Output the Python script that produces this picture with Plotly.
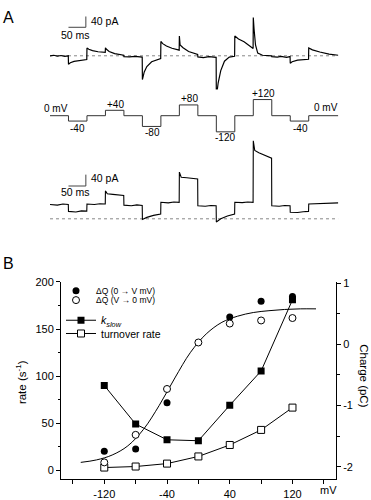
import plotly.graph_objects as go

W, H = 371, 500

# ---------------- Panel A data ----------------
# voltage protocol: step edges (ms) and levels (mV)
step_edges_ms = [0, 50, 100, 150, 200, 250, 300, 350, 400, 450, 500, 550, 600, 650, 700, 780]
step_levels_mV = [0, -40, 0, 40, 0, -80, 0, 80, 0, -120, 0, 120, 0, -40, 0]

# upper current record (pA)
top_t = [0, 10, 20, 30, 40, 49.5,
         50, 55, 65, 80, 99.5,
         100, 105, 115, 130, 149.5,
         150, 152, 160, 175, 199.5,
         200, 215, 230, 249.5,
         250, 255, 262, 275, 299.5,
         300, 305, 315, 330, 349.5,
         350, 352, 360, 375, 399.5,
         400, 415, 430, 449.5,
         450, 455, 462, 472, 485, 499.5,
         500, 510, 525, 549.5,
         550, 552, 556, 562, 575, 599.5,
         600, 615, 625, 640, 649.5,
         650, 655, 670, 699.5,
         700, 710, 730, 755, 780]
top_pA = [0, 2, -1, 1, -2, 0,
          -31, -26, -21, -17, -14,
          29, 24, 19, 15, 13,
          30, 25, 16, 8, 2,
          -3, -4, -2, -5,
          -88, -60, -40, -22, -10,
          53, 45, 36, 28, 21,
          73, 40, 30, 16, 5,
          -4, -7, -3, -6,
          -153, -100, -55, -20, -5, -2,
          73, 62, 52, 27,
          142, 100, 40, 10, 2, 0,
          -3, -5, -2, -6, -3,
          -28, -22, -16, -13,
          29, 22, 14, 6, 2]

# lower current record (pA)
bot_t = [0, 20, 35, 49.5,
         50, 70, 85, 99.5,
         100, 120, 135, 149.5,
         150, 155, 170, 185, 199.5,
         200, 220, 235, 249.5,
         250, 262, 280, 299.5,
         300, 320, 335, 349.5,
         350, 355, 370, 385, 399.5,
         400, 420, 435, 449.5,
         450, 462, 480, 499.5,
         500, 520, 535, 549.5,
         550, 554, 565, 580, 599.5,
         600, 620, 635, 649.5,
         650, 670, 685, 699.5,
         700, 730, 760, 780]
bot_pA = [50, 48, 52, 50,
          26, 24, 28, 27,
          52, 50, 53, 52,
          98, 88, 86, 84, 82,
          48, 46, 49, 47,
          -2, 5, 12, 17,
          58, 56, 59, 58,
          164, 146, 144, 142, 140,
          46, 44, 47, 46,
          -11, 0, 10, 17,
          58, 57, 59, 58,
          274, 240, 232, 224, 213,
          46, 44, 47, 46,
          23, 22, 25, 26,
          52, 53, 55, 56]

# ---------------- Panel B data ----------------
V_on = [-120, -80, -40, 40, 80, 120]
dQ_on_pC = [-1.75, -1.71, -0.955, 0.446, 0.703, 0.78]
V_off = [-120, -80, -40, 0, 40, 80, 120]
dQ_off_pC = [-1.93, -1.48, -0.73, 0.03, 0.34, 0.39, 0.43]
V_fit = [-150, -130, -110, -90, -70, -50, -30, -10, 10, 30, 50, 70, 90, 110, 130, 150]
Q_fit = [-1.93, -1.89, -1.81, -1.66, -1.39, -1.00, -0.55, -0.13, 0.17, 0.36, 0.46, 0.52, 0.55, 0.57, 0.58, 0.58]
V_rate = [-120, -80, -40, 0, 40, 80, 120]
k_slow = [90, 49, 32.3, 31.3, 69, 105.4, 181]
turnover = [2.8, 3.9, 7, 14.6, 26.8, 42.8, 66.5]

x_ticks = [-120, -40, 40, 120]
x_ticktext = ["-120", "-40", "40", "120"]
x_minor_ticks = [-160, -80, 0, 80, 160]
left_ticks = [0, 50, 100, 150, 200]
right_ticks = [-2, -1, 0, 1]
right_ticktext = ["-2", "-1", "0", "1"]

FONT = "Liberation Sans, Arial, sans-serif"


def px(x):
    return x / W


def py(y):
    return 1 - y / H


fig = go.Figure()

# --- Panel A traces ---
fig.add_trace(go.Scatter(x=[top_t[0], top_t[-1]], y=[0, 0], xaxis="x", yaxis="y", mode="lines",
                         line=dict(color="#888", width=1, dash="dot"), showlegend=False, hoverinfo="skip"))
fig.add_trace(go.Scatter(x=top_t, y=top_pA, xaxis="x", yaxis="y", mode="lines",
                         line=dict(color="black", width=1.2), showlegend=False))
fig.add_trace(go.Scatter(x=step_edges_ms, y=step_levels_mV + [step_levels_mV[-1]], xaxis="x", yaxis="y2",
                         mode="lines", line=dict(color="#333", width=1, shape="hv"), showlegend=False))
fig.add_trace(go.Scatter(x=[bot_t[0], bot_t[-1]], y=[0, 0], xaxis="x", yaxis="y3", mode="lines",
                         line=dict(color="#888", width=1, dash="dot"), showlegend=False, hoverinfo="skip"))
fig.add_trace(go.Scatter(x=bot_t, y=bot_pA, xaxis="x", yaxis="y3", mode="lines",
                         line=dict(color="black", width=1.1), showlegend=False))

# --- Panel B traces ---
fig.add_trace(go.Scatter(x=V_fit, y=Q_fit, xaxis="x2", yaxis="y5", mode="lines",
                         line=dict(color="black", width=1, shape="spline"), showlegend=False))
fig.add_trace(go.Scatter(x=V_rate, y=k_slow, xaxis="x2", yaxis="y4", mode="lines+markers",
                         name="<i>k</i><sub><i>slow</i></sub>", legend="legend3",
                         line=dict(color="black", width=1),
                         marker=dict(symbol="square", size=7, color="black")))
fig.add_trace(go.Scatter(x=V_rate, y=turnover, xaxis="x2", yaxis="y4", mode="lines+markers",
                         name="turnover rate", legend="legend4",
                         line=dict(color="black", width=1),
                         marker=dict(symbol="square", size=7, color="white", line=dict(color="black", width=1))))
fig.add_trace(go.Scatter(x=V_on, y=dQ_on_pC, xaxis="x2", yaxis="y5", mode="markers",
                         name="ΔQ (0 → V mV)", legend="legend",
                         marker=dict(symbol="circle", size=7, color="black")))
fig.add_trace(go.Scatter(x=V_off, y=dQ_off_pC, xaxis="x2", yaxis="y5", mode="markers",
                         name="ΔQ (V → 0 mV)", legend="legend2",
                         marker=dict(symbol="circle", size=7, color="white", line=dict(color="black", width=1))))

hidden = dict(visible=False, showgrid=False, zeroline=False, fixedrange=True)

# scale bars (panel A)
shapes = []
for yref, y0, y1 in [("y", 105.6, 145.6), ("y3", 115.2, 155.2)]:
    shapes.append(dict(type="line", xref="x", yref=yref, x0=50, x1=97, y0=y0, y1=y0,
                       line=dict(color="#444", width=1)))
    shapes.append(dict(type="line", xref="x", yref=yref, x0=97, x1=97, y0=y0, y1=y1,
                       line=dict(color="#444", width=1)))

ann = []


def add_text(text, x, y, size=10, angle=0, xanchor="center"):
    ann.append(dict(text=text, x=px(x), y=py(y), xref="paper", yref="paper", showarrow=False,
                    xanchor=xanchor, yanchor="middle", textangle=angle,
                    font=dict(family=FONT, size=size, color="black")))


add_text("A", 8, 12, size=16)
add_text("B", 8, 262, size=16)
add_text("40 pA", 89, 15.5, size=10.5, xanchor="left")
add_text("50 ms", 75.5, 30, size=10.5)
add_text("40 pA", 89, 175.5, size=10.5, xanchor="left")
add_text("50 ms", 75.5, 189.5, size=10.5)
add_text("0 mV", 55.5, 104.5)
add_text("+40", 115, 100)
add_text("-40", 77.5, 124.5)
add_text("-80", 152, 129.3)
add_text("+80", 189, 94)
add_text("-120", 225, 134)
add_text("+120", 263, 89)
add_text("-40", 300, 124.5)
add_text("0 mV", 326, 103.5)
add_text("rate (s<sup>-1</sup>)", 21, 383, size=11.5, angle=-90)
add_text("Charge (pC)", 364, 376, size=11.5, angle=90)
add_text("mV", 328, 492.5, size=11)

tickfont = dict(family=FONT, size=11, color="black")


def leg(xp, yp, size):
    return dict(x=px(xp), y=py(yp), xanchor="left", yanchor="middle", bgcolor="rgba(0,0,0,0)",
                borderwidth=0, itemwidth=30, font=dict(family=FONT, size=size, color="black"),
                tracegroupgap=0)


fig.update_layout(
    width=W, height=H, margin=dict(l=0, r=0, t=0, b=0),
    paper_bgcolor="white", plot_bgcolor="white",
    showlegend=True,
    xaxis=dict(domain=[px(50), px(338.3)], range=[0, 780], anchor="y", **hidden),
    yaxis=dict(domain=[py(96), py(8)], range=[-164.9, 155.4], anchor="x", **hidden),
    yaxis2=dict(domain=[py(140), py(85)], range=[-206.6, 194.9], anchor="x", **hidden),
    yaxis3=dict(domain=[py(225), py(130)], range=[-28.6, 299.1], anchor="x", **hidden),
    xaxis2=dict(domain=[px(61), px(336)], range=[-175.2, 175.5], anchor="y4",
                showline=True, linecolor="black", linewidth=1, mirror=False,
                ticks="outside", ticklen=4, tickcolor="black", tickwidth=1,
                tickvals=x_ticks, ticktext=x_ticktext, tickfont=tickfont,
                minor=dict(tickvals=x_minor_ticks, ticks="outside", ticklen=4, tickcolor="black"),
                showgrid=False, zeroline=False, fixedrange=True),
    yaxis4=dict(domain=[py(482), py(281)], range=[-9.7, 200], anchor="x2",
                showline=True, linecolor="black", linewidth=1,
                ticks="outside", ticklen=4, tickcolor="black", tickwidth=1,
                tickvals=left_ticks, tickfont=tickfont,
                minor=dict(dtick=25, tick0=0, ticks="outside", ticklen=2.5, tickcolor="black"),
                showgrid=False, zeroline=False, fixedrange=True),
    yaxis5=dict(overlaying="y4", side="right", range=[-2.207, 1.02], anchor="x2",
                showline=True, linecolor="black", linewidth=1,
                ticks="outside", ticklen=4, tickcolor="black", tickwidth=1,
                tickvals=right_ticks, ticktext=right_ticktext, tickfont=tickfont,
                minor=dict(dtick=0.5, tick0=0, ticks="outside", ticklen=2.5, tickcolor="black"),
                showgrid=False, zeroline=False, fixedrange=True),
    legend=leg(56, 290, 8.5),
    legend2=leg(56, 299.5, 8.5),
    legend3=leg(61, 320, 10.5),
    legend4=leg(61, 333.5, 10.5),
    shapes=shapes,
    annotations=ann,
)

fig.write_html("out.html", config={"displayModeBar": False},
               post_script="document.body.style.margin='0px';document.body.style.overflow='hidden';")
